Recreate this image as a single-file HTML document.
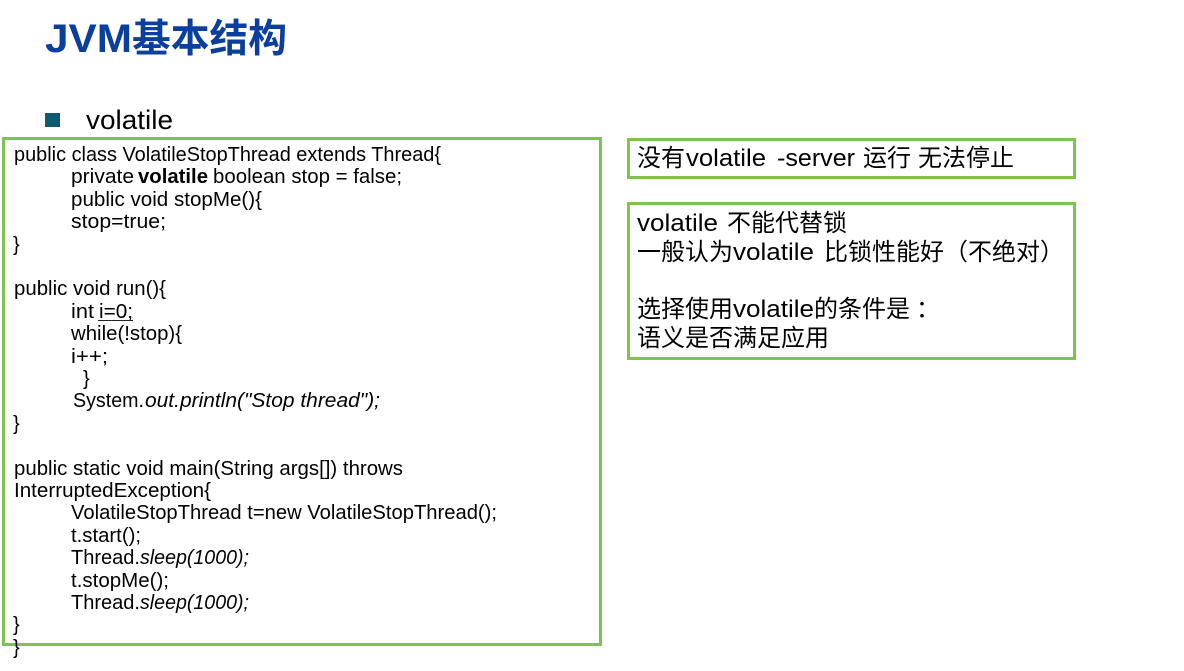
<!DOCTYPE html>
<html><head><meta charset="utf-8">
<style>
html,body{margin:0;padding:0;background:#fff;width:1184px;height:671px;overflow:hidden}
svg{display:block}
text{font-family:"Liberation Sans","Noto Sans CJK SC",sans-serif;fill:#000;white-space:pre}
.c{font-size:20px}
.r{font-size:24px}
.z{font-family:"Noto Sans CJK SC","Liberation Sans",sans-serif;font-size:24px}
</style></head><body>
<svg width="1184" height="671" viewBox="0 0 1184 671" xmlns="http://www.w3.org/2000/svg">
<rect x="0" y="0" width="1184" height="671" fill="#fff"/>
<text x="45" y="52" font-size="40" font-weight="bold" style="fill:#0b3f9e" textLength="87" lengthAdjust="spacingAndGlyphs">JVM</text>
<text x="132" y="52" font-size="39" font-weight="bold" style="fill:#0b3f9e;font-family:'Noto Sans CJK SC',sans-serif" textLength="155" lengthAdjust="spacingAndGlyphs">基本结构</text>
<rect x="45" y="113" width="15" height="14" fill="#0f5a70"/>
<text x="86" y="129" font-size="27" textLength="87" lengthAdjust="spacingAndGlyphs">volatile</text>

<rect x="3.5" y="138.5" width="597" height="506" fill="none" stroke="#7fc34f" stroke-width="3"/>
<rect x="628.5" y="139.5" width="446" height="38" fill="none" stroke="#7fc34f" stroke-width="3"/>
<rect x="628.5" y="203.5" width="446" height="155" fill="none" stroke="#7fc34f" stroke-width="3"/>

<g class="c">
<text class="c" x="14" y="161" textLength="427" lengthAdjust="spacingAndGlyphs">public class VolatileStopThread extends Thread{</text>
<text class="c" x="71" y="183" textLength="63" lengthAdjust="spacingAndGlyphs">private</text>
<text class="c" x="138" y="183" font-weight="bold" textLength="70" lengthAdjust="spacingAndGlyphs">volatile</text>
<text class="c" x="213" y="183" textLength="189" lengthAdjust="spacingAndGlyphs">boolean stop = false;</text>
<text class="c" x="71" y="206" textLength="191" lengthAdjust="spacingAndGlyphs">public void stopMe(){</text>
<text class="c" x="71" y="228" textLength="95" lengthAdjust="spacingAndGlyphs">stop=true;</text>
<text class="c" x="13" y="251">}</text>
<text class="c" x="14" y="295" textLength="152" lengthAdjust="spacingAndGlyphs">public void run(){</text>
<text class="c" x="71" y="318" textLength="23" lengthAdjust="spacingAndGlyphs">int</text>
<text class="c" x="99" y="318" textLength="34" lengthAdjust="spacingAndGlyphs">i=0;</text>
<rect x="98" y="320" width="35" height="1" fill="#222"/>
<text class="c" x="71" y="340" textLength="111" lengthAdjust="spacingAndGlyphs">while(!stop){</text>
<text class="c" x="71" y="363" textLength="37" lengthAdjust="spacingAndGlyphs">i++;</text>
<text class="c" x="83" y="385">}</text>
<text class="c" x="73" y="407" textLength="71" lengthAdjust="spacingAndGlyphs">System.</text>
<text class="c" x="145" y="407" font-style="italic" textLength="235" lengthAdjust="spacingAndGlyphs">out.println("Stop thread");</text>
<text class="c" x="13" y="430">}</text>
<text class="c" x="14" y="475" textLength="389" lengthAdjust="spacingAndGlyphs">public static void main(String args[]) throws</text>
<text class="c" x="14" y="497" textLength="197" lengthAdjust="spacingAndGlyphs">InterruptedException{</text>
<text class="c" x="71" y="519" textLength="426" lengthAdjust="spacingAndGlyphs">VolatileStopThread t=new VolatileStopThread();</text>
<text class="c" x="71" y="542" textLength="70" lengthAdjust="spacingAndGlyphs">t.start();</text>
<text class="c" x="71" y="564" textLength="69" lengthAdjust="spacingAndGlyphs">Thread.</text>
<text class="c" x="140" y="564" font-style="italic" textLength="109" lengthAdjust="spacingAndGlyphs">sleep(1000);</text>
<text class="c" x="71" y="587" textLength="98" lengthAdjust="spacingAndGlyphs">t.stopMe();</text>
<text class="c" x="71" y="609" textLength="69" lengthAdjust="spacingAndGlyphs">Thread.</text>
<text class="c" x="140" y="609" font-style="italic" textLength="109" lengthAdjust="spacingAndGlyphs">sleep(1000);</text>
<text class="c" x="13" y="631">}</text>
<text class="c" x="13" y="654">}</text>
</g>

<text class="z" x="637" y="166">没有</text>
<text class="r" x="686" y="166" textLength="80" lengthAdjust="spacingAndGlyphs">volatile</text>
<text class="r" x="777" y="166" textLength="78" lengthAdjust="spacingAndGlyphs">-server</text>
<text class="z" x="863" y="166">运行</text>
<text class="z" x="918" y="166">无法停止</text>

<text class="r" x="637" y="231" textLength="81" lengthAdjust="spacingAndGlyphs">volatile</text>
<text class="z" x="727" y="231">不能代替锁</text>

<text class="z" x="637" y="260">一般认为</text>
<text class="r" x="733" y="260" textLength="81" lengthAdjust="spacingAndGlyphs">volatile</text>
<text class="z" x="824" y="260">比锁性能好</text>
<text class="z" x="944" y="260">（不绝对）</text>

<text class="z" x="637" y="317">选择使用</text>
<text class="r" x="733" y="317" textLength="81" lengthAdjust="spacingAndGlyphs">volatile</text>
<text class="z" x="814" y="317">的条件是</text>
<text class="z" x="916" y="317">：</text>

<text class="z" x="637" y="346">语义是否满足应用</text>
</svg>
</body></html>
